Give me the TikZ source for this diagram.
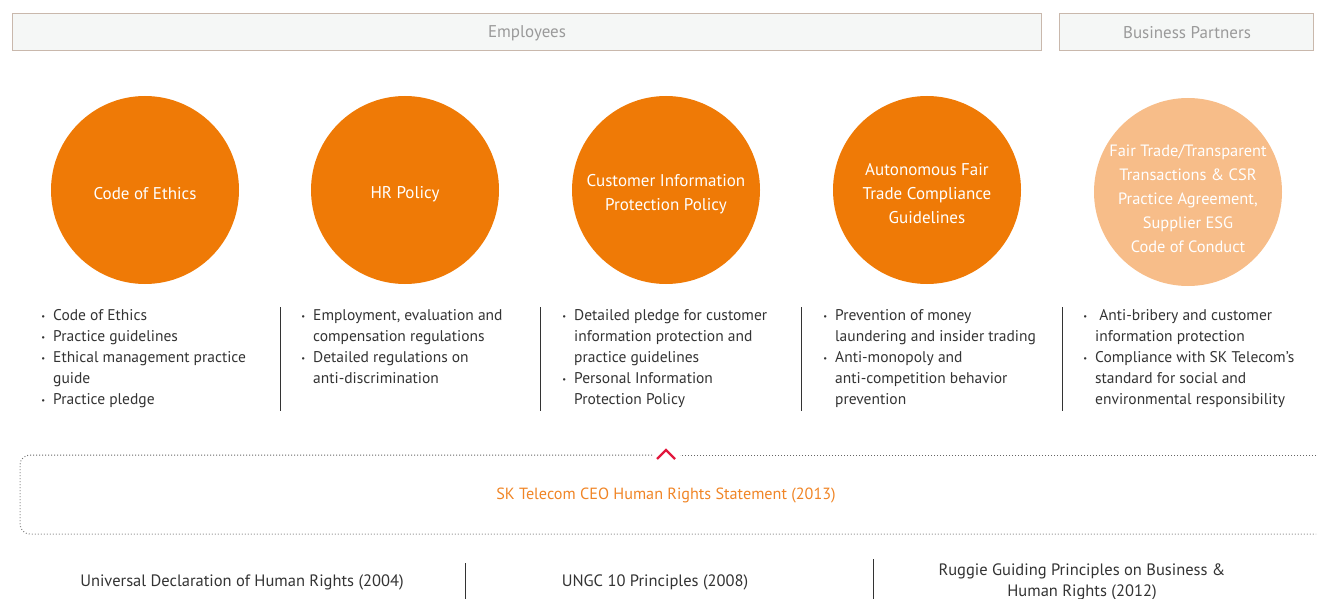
\documentclass[tikz,border=0pt]{standalone}
\usepackage{fontspec}
\setmainfont{PT Sans}
\definecolor{org}{HTML}{EF7A06}
\definecolor{lorg}{HTML}{F7BD89}
\definecolor{txt}{HTML}{333333}
\definecolor{hdr}{HTML}{9A9A9A}
\definecolor{hdrfill}{HTML}{F5F7F6}
\definecolor{hdrline}{HTML}{C9B8AC}
\definecolor{chev}{HTML}{E2183D}
\definecolor{stmt}{HTML}{F08526}
\definecolor{dots}{HTML}{666666}
\newcommand{\bl}{\llap{\raisebox{0.15ex}{\scalebox{0.55}{\textbullet}}\hspace{8pt}}}
\begin{document}
\begin{tikzpicture}[x=1pt,y=-1pt,
  every node/.style={inner sep=0pt, text=txt},
  hdrbox/.style={draw=hdrline, fill=hdrfill, line width=0.8pt, anchor=north west,
    minimum height=37pt, text=hdr},
  hdrtxt/.style={text=hdr, font=\fontsize{17}{20}\selectfont},
  circ/.style={circle, fill=org, minimum size=188pt},
  lcirc/.style={circ, fill=lorg},
  ctxt/.style={text=white, align=center, font=\fontsize{17}{24}\selectfont},
  blist/.style={anchor=north west, align=left, font=\fontsize{15.5}{21}\selectfont},
  divider/.style={draw=txt, line width=0.9pt},
  bottomtxt/.style={align=center, font=\fontsize{16.5}{21}\selectfont, text=txt}
]
\useasboundingbox (0,0) rectangle (1318,599);

% headers
\node[hdrbox, minimum width=1029pt] (emp) at (12,13) {};
\node[hdrtxt] (empt) at (527,33) {Employees};
\node[hdrbox, minimum width=254pt] (bp) at (1059,13) {};
\node[hdrtxt] (bpt) at (1187,33) {Business Partners};

% circles
\node[circ] (c1) at (145,190) {};
\node[circ] (c2) at (405,190) {};
\node[circ] (c3) at (666,190) {};
\node[circ] (c4) at (927,190) {};
\node[lcirc] (c5) at (1188,192) {};
\node[ctxt] (t1) at (145,194) {Code of Ethics};
\node[ctxt] (t2) at (405,194) {HR Policy};
\node[ctxt] (t3) at (666,194) {Customer Information\\Protection Policy};
\node[ctxt] (t4) at (927,194) {Autonomous Fair\\Trade Compliance\\Guidelines};
\node[ctxt, font=\fontsize{16.4}{24}\selectfont] (t5) at (1188,199) {Fair Trade/Transparent\\Transactions \& CSR\\Practice Agreement,\\Supplier ESG\\Code of Conduct};

% bullet lists
\node[blist] (l1) at (53,309) {\bl Code of Ethics\\\bl Practice guidelines\\\bl Ethical management practice\\guide\\\bl Practice pledge};
\node[blist] (l2) at (313,309) {\bl Employment, evaluation and\\compensation regulations\\\bl Detailed regulations on\\anti-discrimination};
\node[blist] (l3) at (574,309) {\bl Detailed pledge for customer\\information protection and\\practice guidelines\\\bl Personal Information\\Protection Policy};
\node[blist] (l4) at (835,309) {\bl Prevention of money\\laundering and insider trading\\\bl Anti-monopoly and\\anti-competition behavior\\prevention};
\node[blist] (l5) at (1095,309) {\bl\ Anti-bribery and customer\\information protection\\\bl Compliance with SK Telecom’s\\standard for social and\\environmental responsibility};

% column dividers
\coordinate (d1t) at (280,307); \coordinate (d1b) at (280,411);
\coordinate (d2t) at (540,307); \coordinate (d2b) at (540,411);
\coordinate (d3t) at (801,307); \coordinate (d3b) at (801,411);
\coordinate (d4t) at (1062,307); \coordinate (d4b) at (1062,411);
\draw[divider] (d1t) -- (d1b);
\draw[divider] (d2t) -- (d2b);
\draw[divider] (d3t) -- (d3b);
\draw[divider] (d4t) -- (d4b);

% dotted frame
\draw[dots, line width=1pt, dash pattern=on 0.8pt off 2.2pt]
  (1316,455) -- (680,455);
\draw[dots, line width=1pt, dash pattern=on 0.8pt off 2.2pt, rounded corners=10pt]
  (652,455) -- (20,455) -- (20,534) -- (1316,534);
\draw[chev, line width=2.3pt] (657,459) -- (666,450) -- (675,459);
\node[font=\fontsize{16.2}{18}\selectfont, text=stmt] (st) at (666,496) {SK Telecom CEO Human Rights Statement (2013)};

% bottom
\node[bottomtxt] (b1) at (242,582) {Universal Declaration of Human Rights (2004)};
\node[bottomtxt] (b2) at (655,582) {UNGC 10 Principles (2008)};
\node[bottomtxt] (b3) at (1082,582) {Ruggie Guiding Principles on Business \&\\Human Rights (2012)};
\coordinate (e1t) at (465,563); \coordinate (e1b) at (465,599);
\coordinate (e2t) at (873,559); \coordinate (e2b) at (873,599);
\draw[divider] (e1t) -- (e1b);
\draw[divider] (e2t) -- (e2b);
\end{tikzpicture}
\end{document}
